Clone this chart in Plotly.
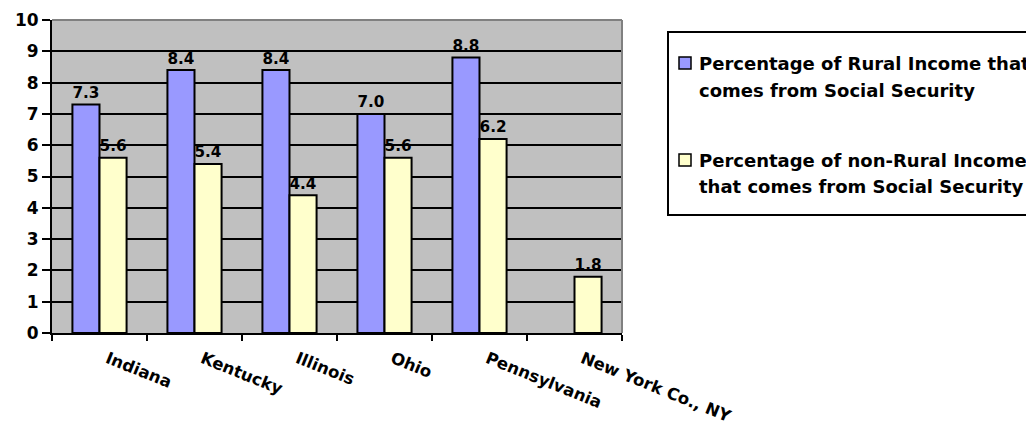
import plotly.graph_objects as go

categories = ["Indiana", "Kentucky", "Illinois", "Ohio", "Pennsylvania", "New York Co., NY"]
rural_values = [7.3, 8.4, 8.4, 7.0, 8.8, None]
nonrural_values = [5.6, 5.4, 4.4, 5.6, 6.2, 1.8]
series_names = [
    "Percentage of Rural Income that<br>comes from Social Security",
    "Percentage of non-Rural Income<br>that comes from Social Security",
]
series_colors = ["#9999FF", "#FFFFCC"]
y_ticks = list(range(0, 11))

OFF = 8  # page body margin
W, H = 1034 - OFF, 425 - OFF
L, R, T, B = 52 - OFF, 622 - OFF, 20 - OFF, 333 - OFF


def px(x):
    return (x - OFF - L) / (R - L)


def py(y):
    return (B - (y - OFF)) / (B - T)


num_font = dict(family="DejaVu Sans", size=17, color="black", weight="bold")

fig = go.Figure()
for vals, name, col in zip([rural_values, nonrural_values], series_names, series_colors):
    fig.add_trace(go.Bar(
        x=categories, y=vals, name=name,
        marker=dict(color=col, line=dict(color="black", width=2)),
        text=[("%.1f" % v) if v is not None else "" for v in vals],
        textposition="outside", textfont=num_font, cliponaxis=False,
        showlegend=False,
    ))

shapes = [
    dict(type="line", xref="paper", yref="paper", x0=0, x1=1, y0=1, y1=1,
         line=dict(color="#808080", width=2), layer="above"),
    dict(type="line", xref="paper", yref="paper", x0=1, x1=1, y0=0, y1=1,
         line=dict(color="#808080", width=2), layer="above"),
    dict(type="rect", xref="paper", yref="paper", x0=px(668), x1=px(1060),
         y0=py(215), y1=py(32), line=dict(color="black", width=2),
         fillcolor="white", layer="above"),
]
annotations = []
leg_rows = [63, 160]
for name, col, yc in zip(series_names, series_colors, leg_rows):
    shapes.append(dict(type="rect", xref="paper", yref="paper",
                       x0=px(679), x1=px(691), y0=py(yc + 6), y1=py(yc - 6),
                       line=dict(color="black", width=1.5), fillcolor=col, layer="above"))
    for i, line in enumerate(name.split("<br>")):
        annotations.append(dict(xref="paper", yref="paper", x=px(697), y=py(yc + 27 * i),
                                xanchor="left", yanchor="middle", showarrow=False,
                                text=line, align="left",
                                font=dict(family="DejaVu Sans", size=18, color="black",
                                          weight="bold")))

fig.update_layout(
    width=W, height=H,
    margin=dict(l=L, r=W - R, t=T, b=H - B, pad=0, autoexpand=False),
    paper_bgcolor="white", plot_bgcolor="#C0C0C0",
    barmode="group", bargap=0.43, bargroupgap=0,
    shapes=shapes, annotations=annotations,
    xaxis=dict(
        type="category", showline=True, linecolor="black", linewidth=2,
        ticks="outside", tickson="boundaries", ticklen=6, tickwidth=2, tickcolor="black",
        tickangle=22, showgrid=False, automargin=False,
        tickfont=dict(family="DejaVu Sans", size=16.5, color="black", weight="bold"),
        ticklabelstandoff=8, ticklabelshift=8,
    ),
    yaxis=dict(
        range=[0, 10], tickvals=y_ticks, showline=True, linecolor="black", linewidth=2,
        ticks="outside", ticklen=8, tickwidth=2, tickcolor="black",
        showgrid=True, gridcolor="black", gridwidth=2, zeroline=False, automargin=False,
        tickfont=num_font,
    ),
)

fig.write_html("out.html")
